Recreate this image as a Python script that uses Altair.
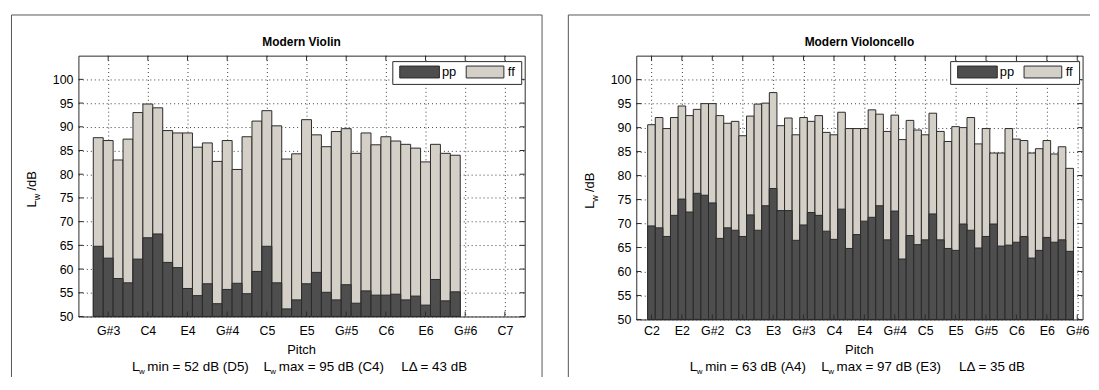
import altair as alt
import pandas as pd

# ---------------- data ----------------
violin_notes = ["G3", "G#3", "A3", "A#3", "B3", "C4", "C#4", "D4", "D#4", "E4", "F4", "F#4",
                "G4", "G#4", "A4", "A#4", "B4", "C5", "C#5", "D5", "D#5", "E5", "F5", "F#5",
                "G5", "G#5", "A5", "A#5", "B5", "C6", "C#6", "D6", "D#6", "E6", "F6", "F#6", "G6"]
violin_pp = [64.8, 62.3, 58.0, 57.1, 62.1, 66.6, 67.4, 61.4, 60.3, 55.9, 54.4, 56.9,
             52.7, 55.7, 57.0, 54.8, 59.5, 64.8, 57.1, 51.6, 53.5, 56.9, 59.3, 55.1,
             53.5, 56.7, 52.8, 55.4, 54.5, 54.5, 54.7, 53.5, 54.3, 52.4, 57.8, 53.3, 55.2]
violin_ff = [87.7, 87.1, 83.0, 87.4, 93.0, 94.8, 94.0, 89.2, 88.7, 88.7, 85.7, 86.6,
             82.7, 87.1, 81.0, 87.9, 91.2, 93.4, 90.2, 83.2, 84.3, 91.5, 88.3, 85.8,
             89.0, 89.6, 84.4, 88.7, 86.2, 87.9, 87.0, 86.3, 85.5, 82.6, 86.3, 84.4, 84.0]
violin_tick_labels = ["G#3", "C4", "E4", "G#4", "C5", "E5", "G#5", "C6", "E6", "G#6", "C7"]
violin_tick_first = 1
violin_x_domain = [-2, 43]
violin_stats = ["min = 52 dB (D5)", "max = 95 dB (C4)", "L\u0394 = 43 dB"]

cello_notes = ["C2", "C#2", "D2", "D#2", "E2", "F2", "F#2", "G2", "G#2", "A2", "A#2", "B2",
               "C3", "C#3", "D3", "D#3", "E3", "F3", "F#3", "G3", "G#3", "A3", "A#3", "B3",
               "C4", "C#4", "D4", "D#4", "E4", "F4", "F#4", "G4", "G#4", "A4", "A#4", "B4",
               "C5", "C#5", "D5", "D#5", "E5", "F5", "F#5", "G5", "G#5", "A5", "A#5", "B5",
               "C6", "C#6", "D6", "D#6", "E6", "F6", "F#6", "G6"]
cello_pp = [69.5, 69.1, 67.3, 71.7, 75.1, 72.4, 76.3, 75.9, 74.3, 66.9, 69.1, 68.6,
            67.3, 71.8, 68.6, 73.7, 77.3, 72.7, 72.7, 66.5, 69.7, 72.3, 71.7, 68.4,
            66.7, 73.0, 64.8, 67.7, 70.5, 71.3, 73.7, 66.6, 72.6, 62.6, 67.5, 65.6,
            66.6, 72.0, 66.6, 64.8, 64.4, 69.9, 68.6, 64.9, 67.3, 69.9, 65.3, 65.5,
            66.1, 67.3, 62.8, 64.4, 67.1, 66.1, 66.6, 64.2]
cello_ff = [90.6, 92.1, 89.8, 92.1, 94.5, 92.5, 93.8, 95.0, 95.0, 92.5, 90.9, 91.3,
            88.3, 92.4, 94.9, 95.1, 97.3, 90.4, 92.0, 88.5, 92.1, 91.3, 92.5, 89.0,
            88.5, 93.2, 89.8, 89.8, 89.8, 93.7, 92.8, 89.2, 92.6, 87.5, 91.5, 89.5,
            88.5, 93.0, 89.2, 87.1, 90.2, 90.0, 92.1, 86.6, 89.8, 84.7, 84.7, 89.8,
            87.6, 87.3, 84.7, 85.6, 87.3, 84.5, 86.0, 81.5]
cello_tick_labels = ["C2", "E2", "G#2", "C3", "E3", "G#3", "C4", "E4", "G#4", "C5",
                     "E5", "G#5", "C6", "E6", "G#6"]
cello_tick_first = 0
cello_x_domain = [-2, 56.7]
cello_stats = ["min = 63 dB (A4)", "max = 97 dB (E3)", "L\u0394 = 35 dB"]

y_ticks = [50, 55, 60, 65, 70, 75, 80, 85, 90, 95, 100]
y_domain = [50, 105]
legend_labels = ["pp", "ff"]

# ---------------- style ----------------
PP_COLOR = "#4e4e4e"
FF_COLOR = "#d4d0c8"
EDGE = "#2a2a2a"
FRAME = "#555555"
GRID = "#3a3a3a"
FONT = "Liberation Sans"
W = 450

one = pd.DataFrame({"a": [0]})


def text_at(txt, x, y, size=13, align="left", baseline="alphabetic", angle=0, weight="normal"):
    return alt.Chart(one).mark_text(
        text=txt, align=align, baseline=baseline, angle=angle, font=FONT,
        fontSize=size, fontWeight=weight, color="black"
    ).encode(x=alt.value(x), y=alt.value(y))


def rule_at(x, x2, y, y2, color=FRAME):
    return alt.Chart(one).mark_rule(color=color, strokeWidth=1).encode(
        x=alt.value(x), x2=alt.value(x2), y=alt.value(y), y2=alt.value(y2))


def rect_at(x, x2, y, y2, fill):
    return alt.Chart(one).mark_rect(fill=fill, stroke=EDGE, strokeWidth=1).encode(
        x=alt.value(x), x2=alt.value(x2), y=alt.value(y), y2=alt.value(y2))


def panel(title, notes, pp, ff, tick_labels, tick_first, xdom, h, stats, xlabel_pad, right_frame):
    df = pd.DataFrame({"note": notes, "pos": list(range(len(notes))), "pp": pp, "ff": ff})
    xs = alt.Scale(domain=xdom, nice=False, zero=False)
    ys = alt.Scale(domain=y_domain, nice=False, zero=False)
    tick_vals = [tick_first + 4 * i for i in range(len(tick_labels))]
    label_expr = "[" + ",".join("'%s'" % t for t in tick_labels) + \
        "][round((datum.value - %d) / 4)]" % tick_first

    xaxis = alt.Axis(values=tick_vals, labelExpr=label_expr, title=None, grid=True,
                     gridDash=[1, 3], gridColor=GRID, gridWidth=1, ticks=False, tickSize=0,
                     domain=False, labelFont=FONT, labelFontSize=12.5, labelColor="black",
                     labelPadding=xlabel_pad, labelBaseline="middle", labelAngle=0,
                     labelFlush=False, labelOverlap=False)
    yaxis = alt.Axis(values=y_ticks, title=None, grid=True, gridDash=[1, 3], gridColor=GRID,
                     gridWidth=1, ticks=False, tickSize=0, domain=False, labelFont=FONT,
                     labelFontSize=12.5, labelColor="black", labelPadding=5.5,
                     labelFlush=False, labelOverlap=False)

    base = alt.Chart(df).transform_calculate(
        x0="datum.pos - 0.5", x1="datum.pos + 0.5", base="50")
    ff_bars = base.mark_bar(fill=FF_COLOR, stroke=EDGE, strokeWidth=1, opacity=1).encode(
        x=alt.X("x0:Q", scale=xs, axis=xaxis), x2="x1:Q",
        y=alt.Y("ff:Q", scale=ys, axis=yaxis), y2="base:Q")
    pp_bars = base.mark_bar(fill=PP_COLOR, stroke=EDGE, strokeWidth=1, opacity=1).encode(
        x=alt.X("x0:Q", scale=xs, axis=xaxis), x2="x1:Q",
        y=alt.Y("pp:Q", scale=ys, axis=yaxis), y2="base:Q")

    tx = pd.DataFrame({"t": tick_vals})
    ty = pd.DataFrame({"v": y_ticks})
    bt = alt.Chart(tx).mark_rule(color=EDGE).encode(
        x=alt.X("t:Q", scale=xs, axis=xaxis), y=alt.value(h), y2=alt.value(h - 5))
    tt = alt.Chart(tx).mark_rule(color=EDGE).encode(
        x=alt.X("t:Q", scale=xs, axis=xaxis), y=alt.value(0), y2=alt.value(5))
    lt = alt.Chart(ty).mark_rule(color=EDGE).encode(
        y=alt.Y("v:Q", scale=ys, axis=yaxis), x=alt.value(0), x2=alt.value(5))
    rt = alt.Chart(ty).mark_rule(color=EDGE).encode(
        y=alt.Y("v:Q", scale=ys, axis=yaxis), x=alt.value(W - 5), x2=alt.value(W))

    # legend
    leg = [
        rect_at(317, 447, 6, 29, "white"),
        rect_at(324, 364, 10.5, 22.5, PP_COLOR),
        text_at(legend_labels[0], 366.5, 21),
        rect_at(391, 429, 10.5, 22.5, FF_COLOR),
        text_at(legend_labels[1], 433, 21),
    ]

    # titles and annotations
    c = h / 2
    deco = [
        text_at(title, W / 2, -9.5, size=12, align="center", weight="bold"),
        text_at("L", -42.5, c + 21.5, angle=270),
        text_at("w", -38.5, c + 14.3, size=9, angle=270),
        text_at("/dB", -42.5, c + 4.5, angle=270),
        text_at("Pitch", W / 2, 300.5, align="center"),
        text_at("L", 54, 318, size=13.5),
        text_at("w", 61, 321.5, size=8),
        text_at(stats[0], 69.5, 318, size=13.5),
        text_at("L", 186.5, 318, size=13.5),
        text_at("w", 193.5, 321.5, size=8),
        text_at(stats[1], 202, 318, size=13.5),
        text_at(stats[2], 325.5, 318, size=13.5),
    ]

    # figure frame
    if right_frame:
        frame = [rule_at(-67.5, 467.5, -41, -41), rule_at(-67.5, -67.5, -41, 324),
                 rule_at(467.5, 467.5, -41, 324)]
    else:
        frame = [rule_at(-68.5, 457.5, -41, -41), rule_at(-68.5, -68.5, -41, 324)]

    return alt.layer(ff_bars, pp_bars, bt, tt, lt, rt, *leg, *deco, *frame).properties(
        width=W, height=h)


violin = panel("Modern Violin", violin_notes, violin_pp, violin_ff, violin_tick_labels,
               violin_tick_first, violin_x_domain, 263, violin_stats, 14.5, True)
cello = panel("Modern Violoncello", cello_notes, cello_pp, cello_ff, cello_tick_labels,
              cello_tick_first, cello_x_domain, 266, cello_stats, 11.5, False)

chart = alt.hconcat(violin, cello, spacing=112.5, bounds="flush").properties(
    padding={"left": 2, "top": 4.5, "right": 0, "bottom": 0},
    background="white",
).configure_view(stroke=EDGE, strokeWidth=1)

chart.save("out.html", embed_options={"renderer": "svg", "actions": False})
